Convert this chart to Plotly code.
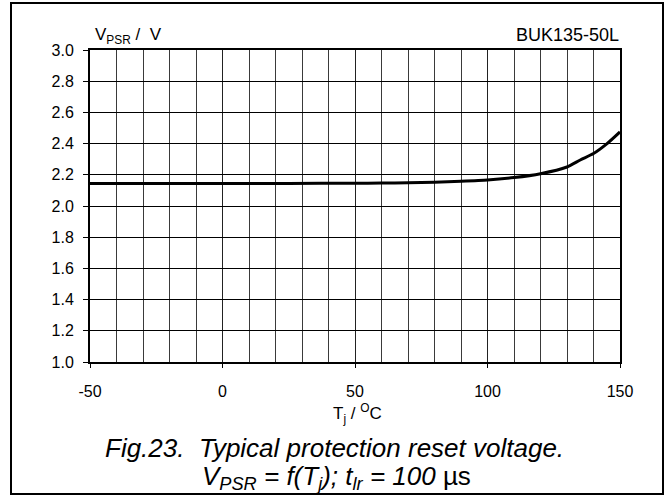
import plotly.graph_objects as go

# Junction temperature (degC) and protection reset voltage (V)
temperature = [-50, -25, 0, 25, 50, 60, 70, 80, 90, 100, 110, 120, 130, 135, 140, 145, 150]
v_psr = [2.145, 2.145, 2.145, 2.145, 2.146, 2.147, 2.149, 2.152, 2.158, 2.166,
         2.182, 2.207, 2.250, 2.295, 2.336, 2.398, 2.475]

x_ticks = [-50, 0, 50, 100, 150]
y_ticks = [1.0, 1.2, 1.4, 1.6, 1.8, 2.0, 2.2, 2.4, 2.6, 2.8, 3.0]

FONT = "Liberation Sans, Arial, sans-serif"

W, H = 667, 497
L, R, T, B = 90, 47, 50, 135
PW, PH = W - L - R, H - T - B


def px(x):
    return (x - L) / PW


def py(y):
    return (H - B - y) / PH


fig = go.Figure()
fig.add_trace(go.Scatter(
    x=temperature, y=v_psr, mode="lines",
    line=dict(color="black", width=3, shape="spline", smoothing=0.6),
    hoverinfo="skip", showlegend=False,
))

fig.update_layout(
    width=W, height=H,
    margin=dict(l=L, r=R, t=T, b=B),
    paper_bgcolor="white", plot_bgcolor="white",
    font=dict(family=FONT, color="black", size=16),
    showlegend=False,
    xaxis=dict(
        range=[-50, 150], tickvals=x_ticks, ticktext=[str(v) for v in x_ticks],
        ticks="outside", ticklen=4, tickwidth=1, tickcolor="black",
        showgrid=True, gridcolor="#222", gridwidth=1,
        minor=dict(dtick=10, tick0=-50, showgrid=True, gridcolor="#3a3a3a", gridwidth=1, ticks=""),
        showline=True, linecolor="black", linewidth=2, mirror=True,
        zeroline=False, ticklabelstandoff=10,
        tickfont=dict(size=16),
    ),
    yaxis=dict(
        range=[1.0, 3.0], tickvals=y_ticks, ticktext=[f"{v:.1f}" for v in y_ticks],
        ticks="outside", ticklen=5, tickwidth=1, tickcolor="black",
        showgrid=True, gridcolor="black", gridwidth=1,
        showline=True, linecolor="black", linewidth=2, mirror=True,
        zeroline=False, ticklabelstandoff=6,
        tickfont=dict(size=16),
    ),
)

annotations = [
    dict(text="V<sub>PSR</sub> /  V", x=px(93), y=py(36), xanchor="left", yanchor="middle",
         font=dict(size=17)),
    dict(text="BUK135-50L", x=px(621), y=py(35), xanchor="right", yanchor="middle",
         font=dict(size=18)),
    dict(text="T<sub>j</sub> / <sup>O</sup>C", x=px(357), y=py(413), xanchor="center", yanchor="middle",
         font=dict(size=17)),
    dict(text="<i>Fig.23.&nbsp; Typical protection reset voltage.</i>", x=px(334), y=py(448),
         xanchor="center", yanchor="middle", font=dict(size=26)),
    dict(text="<i>V<sub>PSR</sub> = f(T<sub>j</sub>); t<sub>lr</sub> = 100 </i>µs",
         x=px(336), y=py(477), xanchor="center", yanchor="middle", font=dict(size=26)),
]
for a in annotations:
    a.update(xref="paper", yref="paper", showarrow=False)
fig.update_layout(annotations=annotations)

# Outer frame around the whole figure
fig.add_shape(type="rect", xref="paper", yref="paper",
              x0=px(11), x1=px(663), y0=py(494), y1=py(3),
              line=dict(color="black", width=2), fillcolor="rgba(0,0,0,0)")

fig.write_html("out.html")
